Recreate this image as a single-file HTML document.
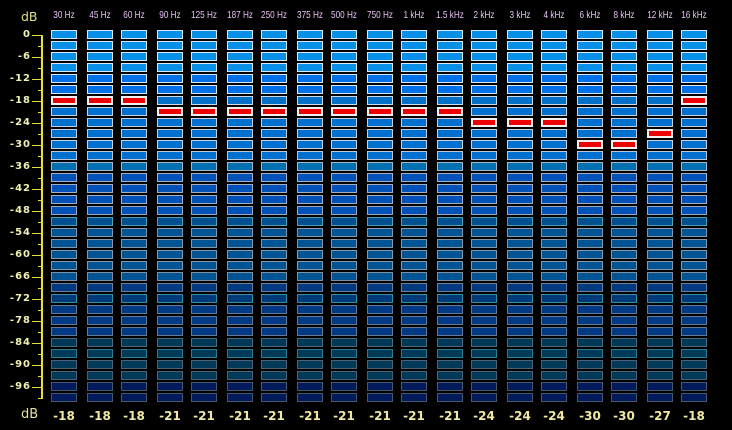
<!DOCTYPE html>
<html><head><meta charset="utf-8">
<style>
html,body{margin:0;padding:0;background:#000;}
body{width:732px;height:430px;position:relative;overflow:hidden;}
.r{position:absolute;left:51px;width:656px;height:9px;
background:
 repeating-linear-gradient(90deg,transparent 0 1px,var(--f) 1px 25px,transparent 25px 37px,var(--f) 37px 61px,transparent 61px 70px) 0 1px/100% 7px no-repeat,
 repeating-linear-gradient(90deg,var(--b) 0 26px,transparent 26px 36px,var(--b) 36px 62px,transparent 62px 70px) 0 0/100% 9px no-repeat;}
.m{position:absolute;width:26px;height:9px;box-sizing:border-box;border:2px solid #eeeeee;background:#ee0000;}
.h{position:absolute;top:10px;width:60px;text-align:center;font:10.5px/11px "Liberation Sans",sans-serif;color:#e8c0f4;transform:scaleX(.78);white-space:nowrap;}
.v{position:absolute;top:410px;width:60px;text-align:center;font:bold 12px/12px "DejaVu Sans",sans-serif;color:#f0e8a0;white-space:nowrap;}
.l{position:absolute;left:0;width:31px;text-align:right;font:bold 10px/10px "DejaVu Sans",sans-serif;color:#f0f0b0;letter-spacing:1px;}
.db{position:absolute;left:21px;font-family:"DejaVu Sans",sans-serif;color:#e0e080;}
</style></head><body>

<div class="db" style="top:10px;font-size:12.5px;line-height:13px;">dB</div>
<div class="db" style="top:408px;font-size:13px;line-height:13px;color:#e8e0a0;">dB</div>

<div style="position:absolute;left:41px;top:35px;width:2px;height:364px;background:#e8e030;"></div>
<div style="position:absolute;left:32px;top:35px;width:10px;height:353px;background:repeating-linear-gradient(180deg,#e8e030 0 1px,transparent 1px 22px);"></div>
<div style="position:absolute;left:38px;top:46px;width:4px;height:353px;background:repeating-linear-gradient(180deg,#e8e030 0 1px,transparent 1px 22px);"></div>

<div class="l" style="top:30px">0</div>
<div class="l" style="top:52px">-6</div>
<div class="l" style="top:74px">-12</div>
<div class="l" style="top:96px">-18</div>
<div class="l" style="top:118px">-24</div>
<div class="l" style="top:140px">-30</div>
<div class="l" style="top:162px">-36</div>
<div class="l" style="top:184px">-42</div>
<div class="l" style="top:206px">-48</div>
<div class="l" style="top:228px">-54</div>
<div class="l" style="top:250px">-60</div>
<div class="l" style="top:272px">-66</div>
<div class="l" style="top:294px">-72</div>
<div class="l" style="top:316px">-78</div>
<div class="l" style="top:338px">-84</div>
<div class="l" style="top:360px">-90</div>
<div class="l" style="top:382px">-96</div>

<div class="r" style="top:30px;--f:#0890e8;--b:#dce8f6"></div>
<div class="r" style="top:41px;--f:#0890e8;--b:#dce8f6"></div>
<div class="r" style="top:52px;--f:#0890e8;--b:#dce8f6"></div>
<div class="r" style="top:63px;--f:#0890e8;--b:#dce8f6"></div>
<div class="r" style="top:74px;--f:#0070e8;--b:#dce8f6"></div>
<div class="r" style="top:85px;--f:#0070e8;--b:#dce8f6"></div>
<div class="r" style="top:96px;--f:#0070c8;--b:#d0dae6"></div>
<div class="r" style="top:107px;--f:#0070d0;--b:#c8d0d8"></div>
<div class="r" style="top:118px;--f:#0070d0;--b:#c8d0d8"></div>
<div class="r" style="top:129px;--f:#0070d0;--b:#c8d0d8"></div>
<div class="r" style="top:140px;--f:#0070d0;--b:#c8d0d8"></div>
<div class="r" style="top:151px;--f:#0070d0;--b:#c0c8d4"></div>
<div class="r" style="top:162px;--f:#0070b0;--b:#a8b8c8"></div>
<div class="r" style="top:173px;--f:#0052b8;--b:#a8b0c0"></div>
<div class="r" style="top:184px;--f:#0052b8;--b:#a8b0c0"></div>
<div class="r" style="top:195px;--f:#0052b8;--b:#a8b0c0"></div>
<div class="r" style="top:206px;--f:#0052b8;--b:#a0a8b8"></div>
<div class="r" style="top:217px;--f:#005090;--b:#50a0b0"></div>
<div class="r" style="top:228px;--f:#005494;--b:#8898a8"></div>
<div class="r" style="top:239px;--f:#005494;--b:#8898a8"></div>
<div class="r" style="top:250px;--f:#005494;--b:#8898a8"></div>
<div class="r" style="top:261px;--f:#005494;--b:#8898a8"></div>
<div class="r" style="top:272px;--f:#005494;--b:#8090a0"></div>
<div class="r" style="top:283px;--f:#003a80;--b:#708098"></div>
<div class="r" style="top:294px;--f:#003a78;--b:#3090a0"></div>
<div class="r" style="top:305px;--f:#003a84;--b:#687890"></div>
<div class="r" style="top:316px;--f:#003a84;--b:#687890"></div>
<div class="r" style="top:327px;--f:#003a84;--b:#687890"></div>
<div class="r" style="top:338px;--f:#003858;--b:#506878"></div>
<div class="r" style="top:349px;--f:#003a58;--b:#2a8090"></div>
<div class="r" style="top:360px;--f:#003a58;--b:#506070"></div>
<div class="r" style="top:371px;--f:#003a58;--b:#506070"></div>
<div class="r" style="top:382px;--f:#001a5c;--b:#4a5868"></div>
<div class="r" style="top:393px;--f:#001a5c;--b:#4a5868"></div>

<div class="m" style="left:51px;top:96px"></div>
<div class="m" style="left:87px;top:96px"></div>
<div class="m" style="left:121px;top:96px"></div>
<div class="m" style="left:157px;top:107px"></div>
<div class="m" style="left:191px;top:107px"></div>
<div class="m" style="left:227px;top:107px"></div>
<div class="m" style="left:261px;top:107px"></div>
<div class="m" style="left:297px;top:107px"></div>
<div class="m" style="left:331px;top:107px"></div>
<div class="m" style="left:367px;top:107px"></div>
<div class="m" style="left:401px;top:107px"></div>
<div class="m" style="left:437px;top:107px"></div>
<div class="m" style="left:471px;top:118px"></div>
<div class="m" style="left:507px;top:118px"></div>
<div class="m" style="left:541px;top:118px"></div>
<div class="m" style="left:577px;top:140px"></div>
<div class="m" style="left:611px;top:140px"></div>
<div class="m" style="left:647px;top:129px"></div>
<div class="m" style="left:681px;top:96px"></div>

<div class="h" style="left:34px">30 Hz</div>
<div class="h" style="left:70px">45 Hz</div>
<div class="h" style="left:104px">60 Hz</div>
<div class="h" style="left:140px">90 Hz</div>
<div class="h" style="left:174px">125 Hz</div>
<div class="h" style="left:210px">187 Hz</div>
<div class="h" style="left:244px">250 Hz</div>
<div class="h" style="left:280px">375 Hz</div>
<div class="h" style="left:314px">500 Hz</div>
<div class="h" style="left:350px">750 Hz</div>
<div class="h" style="left:384px">1 kHz</div>
<div class="h" style="left:420px">1.5 kHz</div>
<div class="h" style="left:454px">2 kHz</div>
<div class="h" style="left:490px">3 kHz</div>
<div class="h" style="left:524px">4 kHz</div>
<div class="h" style="left:560px">6 kHz</div>
<div class="h" style="left:594px">8 kHz</div>
<div class="h" style="left:630px">12 kHz</div>
<div class="h" style="left:664px">16 kHz</div>

<div class="v" style="left:34px">-18</div>
<div class="v" style="left:70px">-18</div>
<div class="v" style="left:104px">-18</div>
<div class="v" style="left:140px">-21</div>
<div class="v" style="left:174px">-21</div>
<div class="v" style="left:210px">-21</div>
<div class="v" style="left:244px">-21</div>
<div class="v" style="left:280px">-21</div>
<div class="v" style="left:314px">-21</div>
<div class="v" style="left:350px">-21</div>
<div class="v" style="left:384px">-21</div>
<div class="v" style="left:420px">-21</div>
<div class="v" style="left:454px">-24</div>
<div class="v" style="left:490px">-24</div>
<div class="v" style="left:524px">-24</div>
<div class="v" style="left:560px">-30</div>
<div class="v" style="left:594px">-30</div>
<div class="v" style="left:630px">-27</div>
<div class="v" style="left:664px">-18</div>

</body></html>
